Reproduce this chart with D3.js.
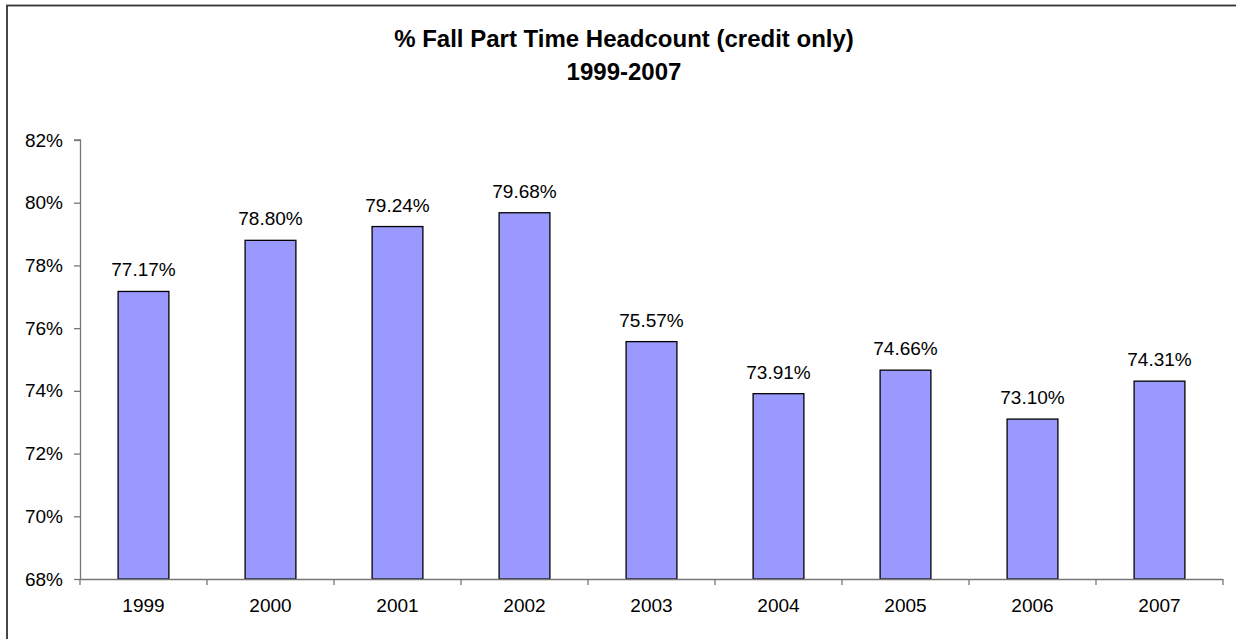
<!DOCTYPE html>
<html>
<head>
<meta charset="utf-8">
<title>% Fall Part Time Headcount</title>
<script src="https://cdn.jsdelivr.net/npm/d3@7"></script>
<style>
  body { margin: 0; background: #fff; }
  text { font-family: "Liberation Sans", Arial, sans-serif; fill: #000; }
</style>
</head>
<body>
<div id="chart"></div>
<script>
var years = ["1999", "2000", "2001", "2002", "2003", "2004", "2005", "2006", "2007"];
var pctValues = [77.17, 78.80, 79.24, 79.68, 75.57, 73.91, 74.66, 73.10, 74.31];
var yTicks = [68, 70, 72, 74, 76, 78, 80, 82];

var width = 1236, height = 639;
var svg = d3.select("#chart").append("svg").attr("width", width).attr("height", height);

// outer chart frame (runs off the right/bottom edge)
svg.append("rect")
  .attr("x", 7).attr("y", 5.5)
  .attr("width", 1300).attr("height", 700)
  .attr("fill", "none").attr("stroke", "#333").attr("stroke-width", 1.8);

// title
var title = svg.append("text").attr("text-anchor", "middle")
  .style("font-weight", "bold").style("font-size", "24px");
title.append("tspan").attr("x", 624).attr("y", 47).text("% Fall Part Time Headcount (credit only)");
title.append("tspan").attr("x", 624).attr("y", 80).text("1999-2007");

var pLeft = 80, pRight = 1223, pTop = 140, pBottom = 579;

var x = d3.scaleBand().domain(years).range([pLeft, pRight]).paddingInner(0.6).paddingOuter(0.3);
var y = d3.scaleLinear().domain([68, 82]).range([pBottom, pTop]);

// bars
svg.selectAll("rect.bar")
  .data(pctValues)
  .enter().append("rect")
  .attr("class", "bar")
  .attr("x", function (d, i) { return x(years[i]); })
  .attr("y", function (d) { return y(d); })
  .attr("width", x.bandwidth())
  .attr("height", function (d) { return pBottom - y(d); })
  .attr("fill", "#9999ff")
  .attr("stroke", "#000")
  .attr("stroke-width", 1.3);

// value labels
svg.selectAll("text.val")
  .data(pctValues)
  .enter().append("text")
  .attr("class", "val")
  .attr("text-anchor", "middle")
  .attr("x", function (d, i) { return x(years[i]) + x.bandwidth() / 2; })
  .attr("y", function (d) { return y(d) - 15; })
  .style("font-size", "19px")
  .text(function (d) { return d.toFixed(2) + "%"; });

// y axis
var yAxis = d3.axisLeft(y).tickValues(yTicks).tickSize(6).tickPadding(11)
  .tickFormat(function (d) { return d + "%"; });
var gy = svg.append("g").attr("transform", "translate(" + pLeft + ",0)").call(yAxis);

// x axis: ticks sit between categories
var xAxis = d3.axisBottom(x).tickSize(0).tickPadding(20);
var gx = svg.append("g").attr("transform", "translate(0," + pBottom + ")").call(xAxis);
var edges = years.map(function (d) { return x(d) - x.step() * x.paddingInner() / 2; });
edges.push(pRight);
gx.selectAll("line.sep").data(edges).enter().append("line")
  .attr("class", "sep")
  .attr("x1", function (d) { return d; }).attr("x2", function (d) { return d; })
  .attr("y1", 0).attr("y2", 6);

[gx, gy].forEach(function (g) {
  g.select(".domain").attr("stroke", "#777").attr("stroke-width", 1.3);
  g.selectAll("line").attr("stroke", "#777").attr("stroke-width", 1.3);
  g.selectAll("text").style("font-size", "19px")
    .style("font-family", "'Liberation Sans', Arial, sans-serif").attr("fill", "#000");
});
gx.select(".domain").attr("d", "M" + pLeft + ",0.5H" + pRight);
gy.select(".domain").attr("d", "M-6," + pTop + "H0.5V" + pBottom);
</script>
</body>
</html>
